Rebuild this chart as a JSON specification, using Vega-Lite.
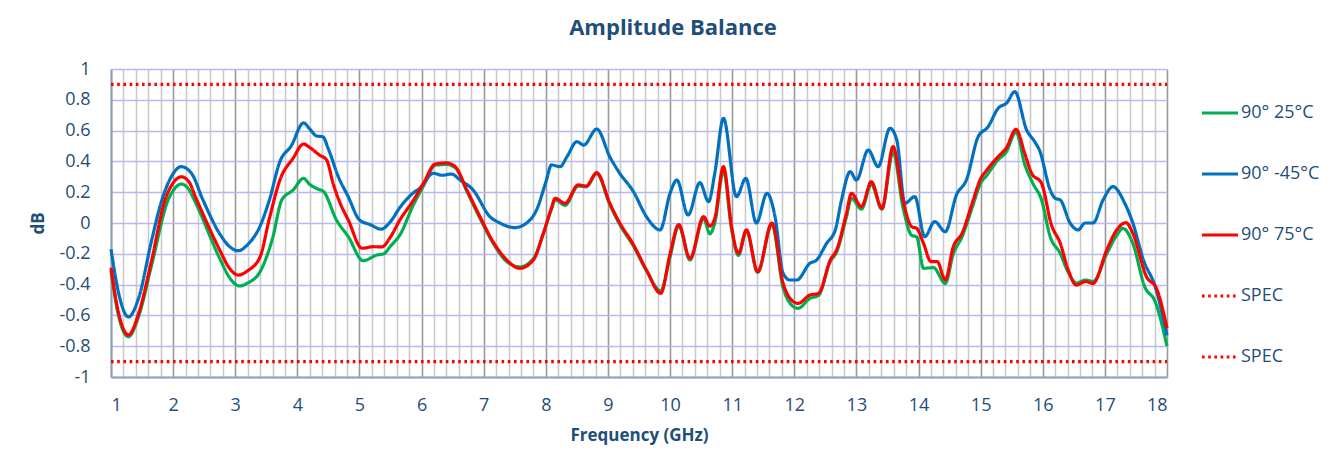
{
  "$schema": "https://vega.github.io/schema/vega-lite/v6.json",
  "width": 1056,
  "height": 308,
  "autosize": {"type": "none"},
  "padding": {"left": 111, "top": 69, "right": 177, "bottom": 89},
  "background": "white",
  "title": {"text": "Amplitude Balance", "fontSize": 22, "font": "Open Sans", "fontWeight": "bold", "color": "#1f4e79", "anchor": "middle", "dx": 34, "offset": 3, "baseline": "alphabetic"},
  "config": {"view": {"stroke": null}, "font": "Open Sans"},
  "datasets": {
    "d": [
      {"s":"90° 25°C","f":1.0,"v":-0.31},{"s":"90° 25°C","f":1.12,"v":-0.6},{"s":"90° 25°C","f":1.28,"v":-0.738},{"s":"90° 25°C","f":1.45,"v":-0.6},{"s":"90° 25°C","f":1.65,"v":-0.28},{"s":"90° 25°C","f":1.92,"v":0.15},{"s":"90° 25°C","f":2.0,"v":0.21},{"s":"90° 25°C","f":2.13,"v":0.253},{"s":"90° 25°C","f":2.25,"v":0.22},{"s":"90° 25°C","f":2.34,"v":0.15},{"s":"90° 25°C","f":2.75,"v":-0.23},{"s":"90° 25°C","f":2.9,"v":-0.35},{"s":"90° 25°C","f":3.07,"v":-0.409},{"s":"90° 25°C","f":3.2,"v":-0.39},{"s":"90° 25°C","f":3.4,"v":-0.316},{"s":"90° 25°C","f":3.6,"v":-0.1},{"s":"90° 25°C","f":3.75,"v":0.15},{"s":"90° 25°C","f":3.93,"v":0.214},{"s":"90° 25°C","f":4.1,"v":0.29},{"s":"90° 25°C","f":4.2,"v":0.25},{"s":"90° 25°C","f":4.34,"v":0.219},{"s":"90° 25°C","f":4.42,"v":0.205},{"s":"90° 25°C","f":4.63,"v":0.019},{"s":"90° 25°C","f":4.82,"v":-0.089},{"s":"90° 25°C","f":5.06,"v":-0.245},{"s":"90° 25°C","f":5.28,"v":-0.208},{"s":"90° 25°C","f":5.39,"v":-0.2},{"s":"90° 25°C","f":5.5,"v":-0.15},{"s":"90° 25°C","f":5.65,"v":-0.078},{"s":"90° 25°C","f":5.87,"v":0.12},{"s":"90° 25°C","f":6.03,"v":0.24},{"s":"90° 25°C","f":6.22,"v":0.375},{"s":"90° 25°C","f":6.4,"v":0.38},{"s":"90° 25°C","f":6.54,"v":0.36},{"s":"90° 25°C","f":6.73,"v":0.205},{"s":"90° 25°C","f":6.94,"v":0.03},{"s":"90° 25°C","f":7.15,"v":-0.13},{"s":"90° 25°C","f":7.37,"v":-0.25},{"s":"90° 25°C","f":7.58,"v":-0.285},{"s":"90° 25°C","f":7.8,"v":-0.23},{"s":"90° 25°C","f":7.96,"v":-0.07},{"s":"90° 25°C","f":8.09,"v":0.09},{"s":"90° 25°C","f":8.15,"v":0.15},{"s":"90° 25°C","f":8.31,"v":0.115},{"s":"90° 25°C","f":8.52,"v":0.24},{"s":"90° 25°C","f":8.65,"v":0.235},{"s":"90° 25°C","f":8.82,"v":0.32},{"s":"90° 25°C","f":9.03,"v":0.12},{"s":"90° 25°C","f":9.19,"v":-0.01},{"s":"90° 25°C","f":9.41,"v":-0.15},{"s":"90° 25°C","f":9.62,"v":-0.31},{"s":"90° 25°C","f":9.85,"v":-0.44},{"s":"90° 25°C","f":10.0,"v":-0.22},{"s":"90° 25°C","f":10.14,"v":-0.02},{"s":"90° 25°C","f":10.32,"v":-0.24},{"s":"90° 25°C","f":10.54,"v":0.03},{"s":"90° 25°C","f":10.64,"v":-0.07},{"s":"90° 25°C","f":10.72,"v":0.0},{"s":"90° 25°C","f":10.86,"v":0.34},{"s":"90° 25°C","f":10.99,"v":-0.04},{"s":"90° 25°C","f":11.1,"v":-0.21},{"s":"90° 25°C","f":11.23,"v":-0.05},{"s":"90° 25°C","f":11.41,"v":-0.32},{"s":"90° 25°C","f":11.64,"v":-0.01},{"s":"90° 25°C","f":11.82,"v":-0.42},{"s":"90° 25°C","f":11.93,"v":-0.52},{"s":"90° 25°C","f":12.06,"v":-0.554},{"s":"90° 25°C","f":12.25,"v":-0.49},{"s":"90° 25°C","f":12.39,"v":-0.47},{"s":"90° 25°C","f":12.58,"v":-0.25},{"s":"90° 25°C","f":12.68,"v":-0.19},{"s":"90° 25°C","f":12.84,"v":0.04},{"s":"90° 25°C","f":12.92,"v":0.16},{"s":"90° 25°C","f":13.08,"v":0.09},{"s":"90° 25°C","f":13.24,"v":0.25},{"s":"90° 25°C","f":13.41,"v":0.09},{"s":"90° 25°C","f":13.59,"v":0.46},{"s":"90° 25°C","f":13.75,"v":0.1},{"s":"90° 25°C","f":13.89,"v":-0.08},{"s":"90° 25°C","f":13.97,"v":-0.09},{"s":"90° 25°C","f":14.08,"v":-0.294},{"s":"90° 25°C","f":14.24,"v":-0.29},{"s":"90° 25°C","f":14.43,"v":-0.392},{"s":"90° 25°C","f":14.56,"v":-0.2},{"s":"90° 25°C","f":14.7,"v":-0.09},{"s":"90° 25°C","f":14.88,"v":0.12},{"s":"90° 25°C","f":14.99,"v":0.25},{"s":"90° 25°C","f":15.1,"v":0.31},{"s":"90° 25°C","f":15.28,"v":0.41},{"s":"90° 25°C","f":15.41,"v":0.46},{"s":"90° 25°C","f":15.57,"v":0.59},{"s":"90° 25°C","f":15.71,"v":0.38},{"s":"90° 25°C","f":15.84,"v":0.258},{"s":"90° 25°C","f":15.98,"v":0.15},{"s":"90° 25°C","f":16.12,"v":-0.089},{"s":"90° 25°C","f":16.28,"v":-0.197},{"s":"90° 25°C","f":16.41,"v":-0.32},{"s":"90° 25°C","f":16.54,"v":-0.39},{"s":"90° 25°C","f":16.69,"v":-0.37},{"s":"90° 25°C","f":16.81,"v":-0.38},{"s":"90° 25°C","f":17.03,"v":-0.2},{"s":"90° 25°C","f":17.19,"v":-0.08},{"s":"90° 25°C","f":17.29,"v":-0.035},{"s":"90° 25°C","f":17.45,"v":-0.132},{"s":"90° 25°C","f":17.64,"v":-0.413},{"s":"90° 25°C","f":17.81,"v":-0.511},{"s":"90° 25°C","f":18.0,"v":-0.8},

      {"s":"90° -45°C","f":1.0,"v":-0.17},{"s":"90° -45°C","f":1.12,"v":-0.45},{"s":"90° -45°C","f":1.28,"v":-0.61},{"s":"90° -45°C","f":1.45,"v":-0.48},{"s":"90° -45°C","f":1.65,"v":-0.12},{"s":"90° -45°C","f":1.82,"v":0.15},{"s":"90° -45°C","f":2.0,"v":0.32},{"s":"90° -45°C","f":2.13,"v":0.366},{"s":"90° -45°C","f":2.3,"v":0.32},{"s":"90° -45°C","f":2.48,"v":0.15},{"s":"90° -45°C","f":2.75,"v":-0.07},{"s":"90° -45°C","f":2.9,"v":-0.15},{"s":"90° -45°C","f":3.05,"v":-0.18},{"s":"90° -45°C","f":3.2,"v":-0.14},{"s":"90° -45°C","f":3.4,"v":-0.02},{"s":"90° -45°C","f":3.55,"v":0.15},{"s":"90° -45°C","f":3.72,"v":0.4},{"s":"90° -45°C","f":3.9,"v":0.5},{"s":"90° -45°C","f":4.1,"v":0.65},{"s":"90° -45°C","f":4.2,"v":0.61},{"s":"90° -45°C","f":4.31,"v":0.565},{"s":"90° -45°C","f":4.41,"v":0.56},{"s":"90° -45°C","f":4.5,"v":0.48},{"s":"90° -45°C","f":4.66,"v":0.3},{"s":"90° -45°C","f":4.82,"v":0.17},{"s":"90° -45°C","f":5.0,"v":0.02},{"s":"90° -45°C","f":5.17,"v":-0.01},{"s":"90° -45°C","f":5.35,"v":-0.04},{"s":"90° -45°C","f":5.5,"v":0.01},{"s":"90° -45°C","f":5.65,"v":0.1},{"s":"90° -45°C","f":5.87,"v":0.197},{"s":"90° -45°C","f":5.97,"v":0.225},{"s":"90° -45°C","f":6.19,"v":0.323},{"s":"90° -45°C","f":6.33,"v":0.31},{"s":"90° -45°C","f":6.48,"v":0.318},{"s":"90° -45°C","f":6.62,"v":0.279},{"s":"90° -45°C","f":6.83,"v":0.214},{"s":"90° -45°C","f":7.1,"v":0.041},{"s":"90° -45°C","f":7.26,"v":0.0},{"s":"90° -45°C","f":7.5,"v":-0.03},{"s":"90° -45°C","f":7.69,"v":0.0},{"s":"90° -45°C","f":7.85,"v":0.084},{"s":"90° -45°C","f":8.01,"v":0.279},{"s":"90° -45°C","f":8.09,"v":0.377},{"s":"90° -45°C","f":8.23,"v":0.366},{"s":"90° -45°C","f":8.34,"v":0.43},{"s":"90° -45°C","f":8.5,"v":0.528},{"s":"90° -45°C","f":8.61,"v":0.506},{"s":"90° -45°C","f":8.82,"v":0.61},{"s":"90° -45°C","f":9.03,"v":0.43},{"s":"90° -45°C","f":9.19,"v":0.323},{"s":"90° -45°C","f":9.41,"v":0.204},{"s":"90° -45°C","f":9.62,"v":0.041},{"s":"90° -45°C","f":9.84,"v":-0.045},{"s":"90° -45°C","f":10.0,"v":0.193},{"s":"90° -45°C","f":10.11,"v":0.279},{"s":"90° -45°C","f":10.29,"v":0.052},{"s":"90° -45°C","f":10.48,"v":0.262},{"s":"90° -45°C","f":10.62,"v":0.139},{"s":"90° -45°C","f":10.72,"v":0.323},{"s":"90° -45°C","f":10.86,"v":0.68},{"s":"90° -45°C","f":11.07,"v":0.171},{"s":"90° -45°C","f":11.22,"v":0.29},{"s":"90° -45°C","f":11.39,"v":0.0},{"s":"90° -45°C","f":11.56,"v":0.193},{"s":"90° -45°C","f":11.69,"v":0.041},{"s":"90° -45°C","f":11.82,"v":-0.327},{"s":"90° -45°C","f":11.93,"v":-0.37},{"s":"90° -45°C","f":12.04,"v":-0.37},{"s":"90° -45°C","f":12.25,"v":-0.262},{"s":"90° -45°C","f":12.36,"v":-0.24},{"s":"90° -45°C","f":12.52,"v":-0.132},{"s":"90° -45°C","f":12.66,"v":-0.045},{"s":"90° -45°C","f":12.76,"v":0.149},{"s":"90° -45°C","f":12.9,"v":0.333},{"s":"90° -45°C","f":13.0,"v":0.279},{"s":"90° -45°C","f":13.19,"v":0.474},{"s":"90° -45°C","f":13.35,"v":0.366},{"s":"90° -45°C","f":13.54,"v":0.615},{"s":"90° -45°C","f":13.65,"v":0.539},{"s":"90° -45°C","f":13.78,"v":0.128},{"s":"90° -45°C","f":13.94,"v":0.171},{"s":"90° -45°C","f":14.1,"v":-0.089},{"s":"90° -45°C","f":14.26,"v":0.009},{"s":"90° -45°C","f":14.43,"v":-0.056},{"s":"90° -45°C","f":14.61,"v":0.182},{"s":"90° -45°C","f":14.77,"v":0.279},{"s":"90° -45°C","f":14.96,"v":0.56},{"s":"90° -45°C","f":15.12,"v":0.625},{"s":"90° -45°C","f":15.28,"v":0.744},{"s":"90° -45°C","f":15.42,"v":0.78},{"s":"90° -45°C","f":15.55,"v":0.853},{"s":"90° -45°C","f":15.74,"v":0.604},{"s":"90° -45°C","f":15.87,"v":0.528},{"s":"90° -45°C","f":15.95,"v":0.47},{"s":"90° -45°C","f":16.12,"v":0.214},{"s":"90° -45°C","f":16.2,"v":0.16},{"s":"90° -45°C","f":16.28,"v":0.15},{"s":"90° -45°C","f":16.44,"v":0.0},{"s":"90° -45°C","f":16.57,"v":-0.045},{"s":"90° -45°C","f":16.68,"v":0.0},{"s":"90° -45°C","f":16.81,"v":0.0},{"s":"90° -45°C","f":16.97,"v":0.149},{"s":"90° -45°C","f":17.13,"v":0.236},{"s":"90° -45°C","f":17.32,"v":0.128},{"s":"90° -45°C","f":17.45,"v":0.0},{"s":"90° -45°C","f":17.62,"v":-0.24},{"s":"90° -45°C","f":17.81,"v":-0.413},{"s":"90° -45°C","f":18.0,"v":-0.73},

      {"s":"90° 75°C","f":1.0,"v":-0.29},{"s":"90° 75°C","f":1.12,"v":-0.58},{"s":"90° 75°C","f":1.28,"v":-0.727},{"s":"90° 75°C","f":1.45,"v":-0.58},{"s":"90° 75°C","f":1.65,"v":-0.25},{"s":"90° 75°C","f":1.87,"v":0.15},{"s":"90° 75°C","f":2.0,"v":0.26},{"s":"90° 75°C","f":2.13,"v":0.3},{"s":"90° 75°C","f":2.25,"v":0.27},{"s":"90° 75°C","f":2.38,"v":0.15},{"s":"90° 75°C","f":2.75,"v":-0.175},{"s":"90° 75°C","f":2.9,"v":-0.29},{"s":"90° 75°C","f":3.05,"v":-0.338},{"s":"90° 75°C","f":3.2,"v":-0.31},{"s":"90° 75°C","f":3.4,"v":-0.22},{"s":"90° 75°C","f":3.55,"v":0.03},{"s":"90° 75°C","f":3.72,"v":0.28},{"s":"90° 75°C","f":3.93,"v":0.42},{"s":"90° 75°C","f":4.1,"v":0.513},{"s":"90° 75°C","f":4.2,"v":0.49},{"s":"90° 75°C","f":4.36,"v":0.44},{"s":"90° 75°C","f":4.47,"v":0.41},{"s":"90° 75°C","f":4.58,"v":0.25},{"s":"90° 75°C","f":4.69,"v":0.128},{"s":"90° 75°C","f":4.82,"v":0.019},{"s":"90° 75°C","f":5.04,"v":-0.164},{"s":"90° 75°C","f":5.22,"v":-0.154},{"s":"90° 75°C","f":5.36,"v":-0.155},{"s":"90° 75°C","f":5.5,"v":-0.09},{"s":"90° 75°C","f":5.65,"v":0.019},{"s":"90° 75°C","f":5.87,"v":0.149},{"s":"90° 75°C","f":6.03,"v":0.258},{"s":"90° 75°C","f":6.22,"v":0.383},{"s":"90° 75°C","f":6.4,"v":0.39},{"s":"90° 75°C","f":6.54,"v":0.366},{"s":"90° 75°C","f":6.73,"v":0.214},{"s":"90° 75°C","f":6.94,"v":0.041},{"s":"90° 75°C","f":7.15,"v":-0.121},{"s":"90° 75°C","f":7.37,"v":-0.24},{"s":"90° 75°C","f":7.58,"v":-0.294},{"s":"90° 75°C","f":7.8,"v":-0.24},{"s":"90° 75°C","f":7.96,"v":-0.067},{"s":"90° 75°C","f":8.09,"v":0.096},{"s":"90° 75°C","f":8.15,"v":0.16},{"s":"90° 75°C","f":8.31,"v":0.128},{"s":"90° 75°C","f":8.52,"v":0.247},{"s":"90° 75°C","f":8.65,"v":0.24},{"s":"90° 75°C","f":8.82,"v":0.327},{"s":"90° 75°C","f":9.03,"v":0.128},{"s":"90° 75°C","f":9.19,"v":0.0},{"s":"90° 75°C","f":9.41,"v":-0.14},{"s":"90° 75°C","f":9.62,"v":-0.305},{"s":"90° 75°C","f":9.85,"v":-0.457},{"s":"90° 75°C","f":10.0,"v":-0.2},{"s":"90° 75°C","f":10.14,"v":-0.01},{"s":"90° 75°C","f":10.32,"v":-0.23},{"s":"90° 75°C","f":10.54,"v":0.041},{"s":"90° 75°C","f":10.64,"v":-0.02},{"s":"90° 75°C","f":10.72,"v":0.03},{"s":"90° 75°C","f":10.86,"v":0.366},{"s":"90° 75°C","f":10.99,"v":-0.024},{"s":"90° 75°C","f":11.1,"v":-0.197},{"s":"90° 75°C","f":11.23,"v":-0.045},{"s":"90° 75°C","f":11.41,"v":-0.316},{"s":"90° 75°C","f":11.64,"v":0.0},{"s":"90° 75°C","f":11.82,"v":-0.39},{"s":"90° 75°C","f":11.93,"v":-0.489},{"s":"90° 75°C","f":12.06,"v":-0.522},{"s":"90° 75°C","f":12.25,"v":-0.468},{"s":"90° 75°C","f":12.39,"v":-0.457},{"s":"90° 75°C","f":12.58,"v":-0.24},{"s":"90° 75°C","f":12.68,"v":-0.175},{"s":"90° 75°C","f":12.84,"v":0.063},{"s":"90° 75°C","f":12.92,"v":0.193},{"s":"90° 75°C","f":13.08,"v":0.106},{"s":"90° 75°C","f":13.24,"v":0.268},{"s":"90° 75°C","f":13.41,"v":0.095},{"s":"90° 75°C","f":13.59,"v":0.496},{"s":"90° 75°C","f":13.75,"v":0.149},{"s":"90° 75°C","f":13.89,"v":-0.024},{"s":"90° 75°C","f":13.97,"v":-0.035},{"s":"90° 75°C","f":14.08,"v":-0.132},{"s":"90° 75°C","f":14.2,"v":-0.251},{"s":"90° 75°C","f":14.3,"v":-0.25},{"s":"90° 75°C","f":14.43,"v":-0.37},{"s":"90° 75°C","f":14.56,"v":-0.154},{"s":"90° 75°C","f":14.7,"v":-0.067},{"s":"90° 75°C","f":14.88,"v":0.149},{"s":"90° 75°C","f":14.99,"v":0.279},{"s":"90° 75°C","f":15.1,"v":0.344},{"s":"90° 75°C","f":15.28,"v":0.43},{"s":"90° 75°C","f":15.41,"v":0.485},{"s":"90° 75°C","f":15.57,"v":0.608},{"s":"90° 75°C","f":15.71,"v":0.452},{"s":"90° 75°C","f":15.82,"v":0.323},{"s":"90° 75°C","f":15.98,"v":0.258},{"s":"90° 75°C","f":16.14,"v":-0.013},{"s":"90° 75°C","f":16.28,"v":-0.13},{"s":"90° 75°C","f":16.41,"v":-0.305},{"s":"90° 75°C","f":16.54,"v":-0.403},{"s":"90° 75°C","f":16.69,"v":-0.38},{"s":"90° 75°C","f":16.81,"v":-0.392},{"s":"90° 75°C","f":17.03,"v":-0.175},{"s":"90° 75°C","f":17.19,"v":-0.045},{"s":"90° 75°C","f":17.34,"v":0.002},{"s":"90° 75°C","f":17.45,"v":-0.067},{"s":"90° 75°C","f":17.67,"v":-0.349},{"s":"90° 75°C","f":17.83,"v":-0.424},{"s":"90° 75°C","f":18.0,"v":-0.684},

      {"s":"SPEC","f":1,"v":0.9},{"s":"SPEC","f":18,"v":0.9},
      {"s":"SPEC ","f":1,"v":-0.9},{"s":"SPEC ","f":18,"v":-0.9}
    ]
  },
  "data": {"name": "d"},
  "mark": {"type": "line", "interpolate": "monotone", "strokeWidth": 3.2, "strokeCap": "butt", "strokeJoin": "round"},
  "encoding": {
    "x": {
      "field": "f", "type": "quantitative",
      "scale": {"domain": [1, 18], "nice": false, "zero": false},
      "axis": {
        "values": [1,1.2,1.4,1.6,1.8,2,2.2,2.4,2.6,2.8,3,3.2,3.4,3.6,3.8,4,4.2,4.4,4.6,4.8,5,5.2,5.4,5.6,5.8,6,6.2,6.4,6.6,6.8,7,7.2,7.4,7.6,7.8,8,8.2,8.4,8.6,8.8,9,9.2,9.4,9.6,9.8,10,10.2,10.4,10.6,10.8,11,11.2,11.4,11.6,11.8,12,12.2,12.4,12.6,12.8,13,13.2,13.4,13.6,13.8,14,14.2,14.4,14.6,14.8,15,15.2,15.4,15.6,15.8,16,16.2,16.4,16.6,16.8,17,17.2,17.4,17.6,17.8,18],
        "labelExpr": "abs(datum.value - round(datum.value)) < 0.001 ? '' + round(datum.value) : ''",
        "labelOverlap": false,
        "labelFontSize": 18, "labelColor": "#1f4e79", "labelPadding": 19, "labelFont": "Open Sans",
        "ticks": false, "domainColor": "#8ea1bd", "domainWidth": 2,
        "grid": true,
        "gridColor": {"condition": {"test": "abs(datum.value - round(datum.value)) < 0.001", "value": "#9a9a9a"}, "value": "#cacaca"},
        "gridWidth": 1.6,
        "title": "Frequency (GHz)", "titleFontSize": 17, "titleFontWeight": "bold", "titleColor": "#1f4e79", "titlePadding": 13, "titleFont": "Open Sans"
      }
    },
    "y": {
      "field": "v", "type": "quantitative",
      "scale": {"domain": [-1, 1], "nice": false, "zero": false},
      "axis": {
        "values": [-1,-0.8,-0.6,-0.4,-0.2,0,0.2,0.4,0.6,0.8,1],
        "labelExpr": "(datum.value < -0.0001 ? '-' : '') + format(abs(datum.value), '.1~f')",
        "labelFontSize": 18, "labelColor": "#1f4e79", "labelPadding": 21, "labelFont": "Open Sans",
        "ticks": false, "domainColor": "#8ea1bd", "domainWidth": 2,
        "grid": true, "gridColor": "#b8b8f0", "gridWidth": 1.5,
        "title": "dB", "titleFontSize": 17, "titleFontWeight": "bold", "titleColor": "#1f4e79", "titleFont": "Open Sans",
        "titleX": -73, "titleY": 154, "titleAngle": -90, "titleAlign": "center", "titleBaseline": "middle"
      }
    },
    "color": {
      "field": "s", "type": "nominal",
      "scale": {"domain": ["90° 25°C", "90° -45°C", "90° 75°C", "SPEC", "SPEC "], "range": ["#00b050", "#0070c0", "#ff0000", "#ff0000", "#ff0000"]},
      "legend": {"title": null, "orient": "none", "legendX": 1089, "legendY": 24, "symbolType": "stroke", "symbolSize": 1300, "symbolStrokeWidth": 3, "labelFontSize": 18, "labelColor": "#1f4e79", "labelFont": "Open Sans", "rowPadding": 32, "labelOffset": 1, "labelExpr": "trim(datum.label)"}
    },
    "strokeDash": {
      "field": "s", "type": "nominal",
      "scale": {"domain": ["90° 25°C", "90° -45°C", "90° 75°C", "SPEC", "SPEC "], "range": [[1, 0], [1, 0], [1, 0], [2.6, 3.6], [2.6, 3.6]]},
      "legend": {"title": null, "orient": "none", "legendX": 1089, "legendY": 24, "symbolType": "stroke", "symbolSize": 1300, "symbolStrokeWidth": 3, "labelFontSize": 18, "labelColor": "#1f4e79", "labelFont": "Open Sans", "rowPadding": 32, "labelOffset": 1, "labelExpr": "trim(datum.label)"}
    }
  }
}
